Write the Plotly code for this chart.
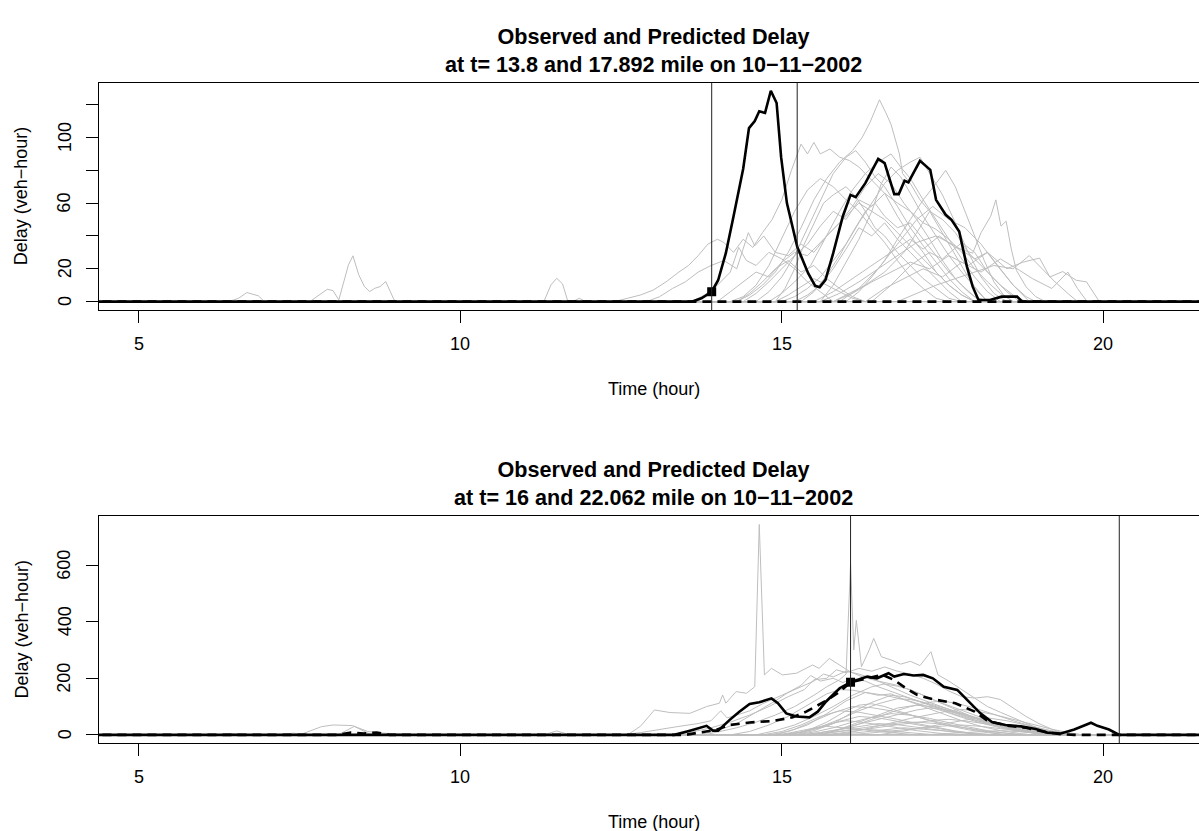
import plotly.graph_objects as go

# ---------------- data ----------------
X_TICKS = [5, 10, 15, 20]
X_TEXT = ["5", "10", "15", "20"]
TOP_Y_TICKS = [0, 20, 40, 60, 80, 100, 120]
TOP_Y_TEXT = ["0", "20", "", "60", "", "100", ""]
BOT_Y_TICKS = [0, 200, 400, 600]
BOT_Y_TEXT = ["0", "200", "400", "600"]

TITLE_TOP = "<b>Observed and Predicted Delay<br>at t= 13.8 and 17.892 mile on 10\u221211\u22122002</b>"
TITLE_BOT = "<b>Observed and Predicted Delay<br>at t= 16 and 22.062 mile on 10\u221211\u22122002</b>"
X_LABEL = "Time (hour)"
Y_LABEL = "Delay (veh\u2212hour)"

DAY_START, DAY_END = 0.0, 24.0

# ---- top panel ----
top_obs = [(13.61, 0), (13.75, 2), (13.91, 6), (14.01, 13), (14.13, 29.5), (14.25, 52), (14.40, 81),
           (14.49, 105.7), (14.58, 110), (14.65, 116), (14.74, 115), (14.83, 128.5), (14.92, 121),
           (14.99, 88), (15.08, 60), (15.24, 33.5), (15.41, 17.3), (15.52, 9.6), (15.59, 8.8),
           (15.68, 13.2), (15.80, 29.5), (15.95, 52), (16.07, 65), (16.15, 63.6), (16.30, 72.2),
           (16.50, 87), (16.60, 84.4), (16.75, 65.5), (16.82, 65.5), (16.91, 73.6), (16.97, 72.6),
           (17.15, 85.8), (17.31, 80.3), (17.40, 62), (17.55, 52.9), (17.64, 49.8), (17.76, 42.7),
           (17.88, 21.3), (17.97, 9.1), (18.06, 1), (18.24, 1), (18.42, 3), (18.66, 3), (18.74, 0)]
top_pred = [(4.0, 0), (13.91, 0), (18.8, 0), (22.0, 0)]
top_vlines = [13.91, 15.24]
top_point = (13.91, 6)

tg01 = [(12.4, 0), (12.6, 2), (12.8, 4), (13.0, 7), (13.2, 12), (13.4, 18), (13.55, 22), (13.7, 28), (13.85, 35),
        (14.0, 38), (14.1, 36), (14.25, 30), (14.4, 38), (14.55, 33), (14.7, 42), (14.85, 50), (15.0, 62),
        (15.15, 80), (15.3, 96), (15.4, 90), (15.5, 97), (15.6, 90), (15.75, 93), (15.9, 88), (16.05, 86),
        (16.2, 82), (16.4, 74), (16.6, 66), (16.8, 52), (17.0, 40), (17.2, 30), (17.4, 18), (17.6, 10),
        (17.8, 4), (18.0, 0)]
tg02 = [(12.9, 0), (13.1, 3), (13.3, 8), (13.5, 12), (13.7, 18), (13.9, 22), (14.1, 25), (14.3, 20), (14.48, 42),
        (14.58, 34), (14.72, 40), (14.9, 30), (15.1, 28), (15.3, 35), (15.5, 30), (15.7, 40), (15.9, 48),
        (16.1, 58), (16.3, 70), (16.5, 78), (16.7, 72), (16.9, 60), (17.1, 50), (17.3, 38), (17.5, 25),
        (17.7, 14), (17.9, 6), (18.1, 0)]
tg03 = [(14.3, 0), (14.5, 4), (14.7, 10), (14.9, 18), (15.1, 30), (15.3, 45), (15.5, 62), (15.7, 75), (15.9, 85),
        (16.1, 92), (16.25, 100), (16.37, 109), (16.52, 123), (16.62, 115), (16.7, 108), (16.83, 90), (16.88, 78),
        (17.0, 72), (17.15, 62), (17.3, 55), (17.45, 45), (17.6, 35), (17.75, 25), (17.9, 15), (18.05, 6), (18.2, 0)]
tg04 = [(15.5, 0), (15.8, 6), (16.1, 14), (16.4, 22), (16.7, 30), (17.0, 38), (17.2, 32), (17.45, 40), (17.7, 33),
        (17.97, 29.5), (18.1, 42), (18.25, 52), (18.33, 62), (18.41, 46), (18.49, 49), (18.57, 32), (18.65, 19),
        (18.8, 9), (18.95, 3), (19.1, 0)]
tg05 = [(15.8, 0), (16.1, 5), (16.4, 12), (16.7, 18), (17.0, 24), (17.3, 20), (17.6, 28), (17.9, 22), (18.2, 30),
        (18.5, 20), (18.75, 24), (19.01, 26.5), (19.17, 15), (19.37, 18.3), (19.58, 13), (19.74, 12), (19.94, 0)]
tg06 = [(16.3, 0), (16.6, 8), (16.9, 14), (17.2, 20), (17.5, 15), (17.8, 24), (18.1, 18), (18.4, 26), (18.7, 19),
        (18.9, 14), (19.2, 8), (19.45, 18), (19.6, 8), (19.75, 0)]
tg07 = [(14.8, 0), (15.0, 5), (15.2, 12), (15.45, 22), (15.7, 40), (15.9, 55), (16.1, 68), (16.3, 78), (16.5, 85),
        (16.7, 90), (16.85, 82), (17.0, 75), (17.2, 62), (17.4, 50), (17.6, 38), (17.8, 26), (18.0, 15),
        (18.2, 6), (18.4, 0)]
tg08 = [(14.4, 0), (14.6, 5), (14.8, 12), (15.0, 20), (15.2, 28), (15.4, 35), (15.6, 46), (15.8, 55), (16.0, 50),
        (16.2, 62), (16.4, 58), (16.6, 66), (16.8, 60), (17.0, 55), (17.2, 48), (17.4, 44), (17.6, 38),
        (17.8, 30), (18.0, 20), (18.2, 12), (18.4, 5), (18.6, 0)]
tg09 = [(14.2, 0), (14.4, 3), (14.6, 10), (14.8, 22), (15.0, 38), (15.2, 55), (15.4, 68), (15.6, 75), (15.8, 70),
        (16.0, 62), (16.2, 55), (16.4, 45), (16.6, 36), (16.8, 25), (17.0, 15), (17.2, 8), (17.4, 2), (17.6, 0)]
tg10 = [(15.0, 0), (15.2, 3), (15.4, 8), (15.6, 15), (15.8, 25), (16.0, 35), (16.2, 48), (16.4, 60), (16.6, 72),
        (16.8, 80), (17.0, 85), (17.15, 88), (17.3, 78), (17.5, 65), (17.7, 48), (17.9, 30), (18.1, 15),
        (18.3, 5), (18.5, 0)]
tg11 = [(14.3, 0), (14.5, 5), (14.7, 12), (14.9, 20), (15.1, 25), (15.3, 18), (15.5, 22), (15.7, 14), (15.9, 8),
        (16.1, 3), (16.3, 0)]
tg12 = [(15.2, 0), (15.4, 4), (15.6, 10), (15.8, 20), (16.0, 32), (16.2, 45), (16.4, 40), (16.6, 48), (16.8, 38),
        (17.0, 30), (17.2, 22), (17.4, 14), (17.6, 6), (17.8, 0)]
tg13 = [(15.8, 0), (16.0, 4), (16.3, 10), (16.6, 18), (16.9, 30), (17.1, 42), (17.3, 55), (17.5, 50), (17.7, 42),
        (17.9, 30), (18.1, 22), (18.3, 14), (18.5, 6), (18.7, 0)]
tg14 = [(14.9, 0), (15.05, 8), (15.2, 20), (15.35, 35), (15.5, 48), (15.65, 60), (15.8, 65), (16.0, 70),
        (16.15, 64), (16.3, 55), (16.45, 45), (16.6, 40), (16.8, 30), (17.0, 22), (17.2, 14), (17.4, 8),
        (17.6, 2), (17.8, 0)]
tg15 = [(13.6, 0), (13.8, 4), (14.0, 10), (14.2, 18), (14.33, 33), (14.45, 25), (14.6, 22), (14.8, 30),
        (15.0, 26), (15.2, 20), (15.4, 12), (15.6, 6), (15.8, 0)]
tg16 = [(16.0, 0), (16.2, 6), (16.4, 15), (16.6, 25), (16.8, 38), (17.0, 50), (17.2, 62), (17.4, 72), (17.55, 80),
        (17.7, 70), (17.85, 55), (18.0, 40), (18.15, 25), (18.3, 12), (18.45, 4), (18.6, 0)]
tg17 = [(15.3, 0), (15.5, 6), (15.7, 16), (15.9, 28), (16.1, 42), (16.3, 55), (16.45, 60), (16.6, 52), (16.8, 45),
        (17.0, 48), (17.2, 38), (17.4, 28), (17.6, 18), (17.8, 10), (18.0, 3), (18.2, 0)]
tg18 = [(16.8, 0), (17.1, 5), (17.4, 10), (17.7, 14), (18.0, 18), (18.3, 22), (18.6, 20), (18.85, 28),
        (19.05, 20), (19.25, 12), (19.45, 5), (19.6, 0)]
tg19 = [(14.6, 0), (14.8, 6), (15.0, 15), (15.2, 28), (15.4, 45), (15.6, 62), (15.8, 78), (16.0, 88), (16.15, 92),
        (16.3, 85), (16.45, 76), (16.6, 70), (16.8, 58), (17.0, 45), (17.2, 34), (17.4, 24), (17.6, 14),
        (17.8, 6), (18.0, 0)]
tg20 = [(15.6, 0), (15.9, 5), (16.2, 12), (16.5, 20), (16.8, 28), (17.1, 36), (17.4, 40), (17.7, 34), (18.0, 26),
        (18.2, 30), (18.4, 20), (18.6, 10), (18.8, 3), (18.95, 0)]
tg21 = [(14.9, 0), (15.1, 4), (15.3, 9), (15.5, 14), (15.7, 10), (15.9, 6), (16.1, 2), (16.3, 0)]
tg22 = [(6.4, 0), (6.55, 2), (6.68, 5.5), (6.86, 3.5), (6.95, 0), (7.66, 0), (7.78, 3.5), (7.93, 7.5), (8.02, 6.7),
        (8.11, 1), (8.26, 22.4), (8.33, 27.9), (8.42, 16.3), (8.51, 9.1), (8.59, 6.1), (8.67, 8.1), (8.75, 9.1),
        (8.84, 12.2), (8.97, 1), (9.03, 0), (11.3, 0), (11.41, 10.2), (11.5, 14.2), (11.59, 10.8), (11.67, 0.5),
        (11.75, 0), (11.85, 2), (11.95, 0)]
tg23 = [(15.9, 0), (16.2, 8), (16.5, 20), (16.8, 35), (17.1, 50), (17.35, 58), (17.6, 50), (17.85, 45),
        (18.1, 35), (18.35, 22), (18.6, 10), (18.85, 0)]
tg24 = [(16.4, 0), (16.7, 10), (17.0, 22), (17.3, 30), (17.5, 26), (17.8, 36), (18.0, 30), (18.2, 18),
        (18.4, 10), (18.6, 4), (18.8, 0)]
tg25 = [(14.0, 0), (14.2, 6), (14.4, 12), (14.6, 18), (14.8, 15), (15.0, 24), (15.2, 30), (15.4, 28), (15.6, 36),
        (15.8, 44), (16.0, 52), (16.2, 60), (16.4, 55), (16.6, 50), (16.8, 42), (17.0, 34), (17.2, 26),
        (17.4, 18), (17.6, 10), (17.8, 4), (18.0, 0)]
tg26 = [(15.6, 0), (15.8, 10), (16.0, 24), (16.2, 38), (16.4, 55), (16.55, 72), (16.7, 82), (16.85, 76),
        (17.0, 66), (17.2, 52), (17.4, 40), (17.6, 28), (17.8, 18), (18.0, 9), (18.2, 0)]

# ---- bottom panel ----
bot_obs = [(12.79, 0), (13.33, 0), (13.57, 15), (13.83, 32), (13.93, 15), (14.01, 15), (14.19, 53), (14.34, 82),
           (14.50, 109), (14.65, 115), (14.84, 129), (14.94, 112), (15.07, 76), (15.23, 65), (15.43, 62),
           (15.56, 82), (15.69, 118), (15.90, 165), (16.07, 186), (16.33, 206), (16.48, 200), (16.66, 218),
           (16.75, 206), (16.90, 215), (17.05, 210), (17.20, 212), (17.35, 200), (17.52, 170), (17.73, 159),
           (17.91, 118), (18.09, 76), (18.27, 45), (18.48, 35), (18.72, 30), (18.95, 21), (19.13, 8),
           (19.34, 5), (19.55, 19), (19.81, 43), (19.91, 32), (20.09, 19), (20.25, 0)]
bot_pred = [(8.1, 0), (8.3, 8), (8.5, 5), (8.7, 8), (8.9, 0), (13.5, 0), (13.75, 8), (13.98, 18), (14.19, 35),
            (14.5, 44), (14.86, 49), (15.17, 62), (15.38, 82), (15.67, 118), (15.9, 152), (16.07, 186),
            (16.33, 200), (16.57, 212), (16.75, 194), (16.93, 165), (17.11, 141), (17.35, 126), (17.70, 112),
            (18.0, 82), (18.18, 53), (18.27, 45), (18.5, 33), (18.8, 25), (19.1, 10), (19.35, 2), (19.55, 0)]
bot_vlines = [16.07, 20.25]
bot_point = (16.07, 186)

bg01 = [(12.6, 0), (12.8, 30), (13.02, 88), (13.26, 79), (13.57, 76), (13.83, 100), (14.03, 112), (14.08, 141),
        (14.13, 112), (14.29, 153), (14.45, 147), (14.58, 170), (14.65, 744), (14.73, 212), (14.84, 235),
        (15.01, 212), (15.23, 218), (15.48, 247), (15.58, 235), (15.74, 270), (15.9, 247), (16.05, 225),
        (16.25, 205), (16.5, 190), (16.8, 175), (17.1, 150), (17.4, 120), (17.7, 95), (18.0, 70), (18.3, 45),
        (18.6, 28), (18.9, 12), (19.2, 4), (19.4, 0)]
bg02 = [(13.8, 0), (14.0, 10), (14.3, 25), (14.6, 45), (14.9, 70), (15.2, 100), (15.5, 140), (15.7, 170),
        (15.9, 195), (16.0, 215), (16.07, 605), (16.12, 300), (16.16, 405), (16.24, 241), (16.36, 300),
        (16.43, 341), (16.55, 276), (16.7, 265), (16.85, 250), (17.0, 260), (17.15, 245), (17.32, 294),
        (17.43, 212), (17.6, 190), (17.8, 160), (18.0, 130), (18.2, 100), (18.4, 80), (18.6, 60), (18.8, 40),
        (19.0, 22), (19.2, 10), (19.4, 0)]
bg03 = [(12.5, 0), (12.8, 8), (13.1, 20), (13.4, 30), (13.7, 40), (13.9, 50), (14.05, 85), (14.15, 60),
        (14.3, 70), (14.5, 85), (14.7, 110), (14.9, 130), (15.1, 150), (15.3, 170), (15.5, 190), (15.65, 215),
        (15.8, 205), (16.0, 225), (16.2, 215), (16.4, 200), (16.6, 180), (16.8, 160), (17.0, 140), (17.3, 115),
        (17.6, 90), (17.9, 65), (18.2, 42), (18.5, 25), (18.8, 12), (19.1, 0)]
bg04 = [(13.3, 0), (13.6, 10), (13.9, 25), (14.2, 45), (14.5, 70), (14.8, 100), (15.1, 135), (15.35, 160),
        (15.5, 195), (15.7, 200), (15.85, 230), (16.0, 220), (16.2, 235), (16.4, 225), (16.6, 240), (16.8, 225),
        (17.0, 215), (17.2, 200), (17.4, 180), (17.6, 155), (17.8, 135), (18.0, 130), (18.2, 135), (18.4, 125),
        (18.6, 95), (18.8, 65), (19.0, 40), (19.2, 20), (19.4, 5), (19.6, 0)]
bg05 = [(14.6, 0), (14.9, 15), (15.2, 35), (15.5, 65), (15.8, 100), (16.1, 140), (16.4, 170), (16.6, 180),
        (16.8, 172), (17.0, 160), (17.3, 130), (17.6, 100), (17.9, 70), (18.2, 45), (18.5, 25), (18.8, 10), (19.1, 0)]
bg06 = [(14.8, 0), (15.1, 12), (15.4, 35), (15.7, 75), (16.0, 120), (16.3, 150), (16.5, 140), (16.7, 145),
        (16.9, 125), (17.2, 100), (17.5, 75), (17.8, 50), (18.1, 30), (18.4, 15), (18.7, 5), (18.9, 0)]
bg07 = [(15.0, 0), (15.3, 10), (15.6, 28), (15.9, 55), (16.2, 85), (16.5, 110), (16.8, 128), (17.0, 125),
        (17.3, 110), (17.6, 90), (17.9, 70), (18.2, 50), (18.5, 35), (18.8, 20), (19.1, 8), (19.4, 0)]
bg08 = [(15.1, 0), (15.4, 15), (15.7, 45), (16.0, 85), (16.2, 105), (16.4, 110), (16.6, 100), (16.8, 85),
        (17.0, 70), (17.3, 50), (17.6, 32), (17.9, 18), (18.2, 8), (18.5, 0)]
bg09 = [(15.3, 0), (15.6, 8), (15.9, 20), (16.2, 38), (16.5, 55), (16.8, 72), (17.1, 88), (17.3, 95), (17.5, 90),
        (17.8, 72), (18.1, 52), (18.4, 35), (18.7, 20), (19.0, 8), (19.3, 0)]
bg10 = [(14.7, 0), (15.0, 12), (15.3, 35), (15.6, 65), (15.9, 85), (16.2, 80), (16.5, 68), (16.8, 55), (17.1, 40),
        (17.4, 26), (17.7, 14), (18.0, 5), (18.3, 0)]
bg11 = [(15.2, 0), (15.5, 10), (15.8, 25), (16.1, 45), (16.4, 62), (16.7, 75), (17.0, 70), (17.3, 58), (17.6, 42),
        (17.9, 28), (18.2, 15), (18.5, 6), (18.8, 0)]
bg12 = [(15.0, 0), (15.3, 8), (15.6, 25), (15.9, 48), (16.2, 65), (16.5, 60), (16.8, 48), (17.1, 35), (17.4, 22),
        (17.7, 12), (18.0, 4), (18.2, 0)]
bg13 = [(15.6, 0), (15.9, 6), (16.2, 15), (16.5, 26), (16.8, 36), (17.1, 45), (17.4, 52), (17.6, 55), (17.9, 48),
        (18.2, 38), (18.5, 26), (18.8, 15), (19.1, 6), (19.4, 0)]
bg14 = [(15.0, 0), (15.3, 10), (15.6, 28), (15.8, 42), (16.0, 50), (16.2, 46), (16.5, 36), (16.8, 25), (17.1, 15),
        (17.4, 7), (17.7, 0)]
bg15 = [(15.4, 0), (15.7, 6), (16.0, 15), (16.3, 26), (16.6, 36), (16.9, 44), (17.1, 45), (17.4, 40), (17.7, 30),
        (18.0, 20), (18.3, 10), (18.6, 3), (18.8, 0)]
bg16 = [(15.3, 0), (15.6, 8), (15.9, 18), (16.2, 30), (16.5, 40), (16.8, 36), (17.1, 27), (17.4, 18), (17.7, 9),
        (18.0, 3), (18.2, 0)]
bg17 = [(16.0, 0), (16.3, 5), (16.6, 12), (16.9, 18), (17.2, 25), (17.5, 31), (17.8, 35), (18.1, 30), (18.4, 22),
        (18.7, 14), (19.0, 7), (19.3, 2), (19.5, 0)]
bg18 = [(14.9, 0), (15.1, 6), (15.3, 15), (15.5, 24), (15.7, 30), (15.9, 27), (16.2, 20), (16.5, 12), (16.8, 6),
        (17.1, 0)]
bg19 = [(15.8, 0), (16.1, 6), (16.4, 14), (16.7, 22), (16.9, 25), (17.2, 20), (17.5, 14), (17.8, 8), (18.1, 3),
        (18.3, 0)]
bg20 = [(15.4, 0), (15.7, 6), (16.0, 15), (16.2, 20), (16.5, 17), (16.8, 11), (17.1, 5), (17.4, 0)]
bg21 = [(16.5, 0), (16.8, 10), (17.1, 22), (17.4, 35), (17.7, 48), (18.0, 58), (18.2, 60), (18.5, 50), (18.8, 35),
        (19.1, 18), (19.4, 5), (19.6, 0)]
bg22 = [(15.8, 0), (16.1, 10), (16.4, 25), (16.7, 42), (17.0, 58), (17.3, 72), (17.6, 85), (17.8, 90), (18.0, 85),
        (18.3, 72), (18.6, 55), (18.9, 38), (19.2, 20), (19.5, 6), (19.7, 0)]
bg23 = [(15.5, 0), (15.8, 12), (16.1, 30), (16.4, 55), (16.7, 80), (17.0, 100), (17.3, 115), (17.5, 120),
        (17.7, 112), (18.0, 95), (18.3, 72), (18.6, 50), (18.9, 30), (19.2, 14), (19.5, 4), (19.7, 0)]
bg24 = [(14.2, 0), (14.5, 12), (14.8, 35), (15.1, 65), (15.4, 105), (15.7, 145), (15.9, 160), (16.1, 158),
        (16.3, 150), (16.6, 140), (16.9, 125), (17.2, 105), (17.5, 85), (17.8, 62), (18.1, 42), (18.4, 25),
        (18.7, 12), (19.0, 4), (19.2, 0)]
bg25 = [(13.7, 0), (14.0, 15), (14.3, 40), (14.6, 80), (14.9, 120), (15.1, 150), (15.3, 175), (15.45, 210),
        (15.6, 190), (15.8, 200), (15.95, 185), (16.1, 200), (16.3, 190), (16.5, 170), (16.8, 145), (17.1, 120),
        (17.4, 95), (17.7, 72), (18.0, 52), (18.3, 35), (18.6, 20), (18.9, 8), (19.2, 0)]
bg26 = [(15.2, 0), (15.5, 15), (15.8, 40), (16.1, 80), (16.4, 115), (16.7, 140), (16.9, 135), (17.2, 115),
        (17.5, 92), (17.8, 68), (18.1, 46), (18.4, 28), (18.7, 14), (19.0, 5), (19.2, 0)]
bg27 = [(17.2, 0), (17.6, 5), (18.0, 10), (18.4, 15), (18.8, 10), (19.2, 4), (19.5, 0)]
bg28 = [(7.5, 0), (7.84, 29), (8.02, 35), (8.32, 33), (8.56, 12), (8.8, 6), (9.35, 0), (11.3, 0), (11.5, 14),
        (11.7, 0)]
bg29 = [(8.1, 0), (8.35, 30), (8.6, 2), (8.8, 0)]
bg30 = [(6.2, 0), (6.45, 5), (6.7, 0), (7.2, 0), (7.4, 6), (7.6, 0)]
bg31 = [(15.6, 0), (15.9, 20), (16.2, 45), (16.5, 70), (16.8, 95), (17.1, 105), (17.4, 98), (17.7, 80),
        (18.0, 60), (18.3, 40), (18.6, 22), (18.9, 10), (19.2, 0)]
bg32 = [(14.9, 0), (15.2, 20), (15.5, 48), (15.8, 78), (16.1, 100), (16.4, 96), (16.7, 85), (17.0, 70),
        (17.3, 52), (17.6, 36), (17.9, 22), (18.2, 10), (18.5, 0)]

top_gray = [tg01, tg02, tg03, tg04, tg05, tg06, tg07, tg08, tg09, tg10, tg11, tg12, tg13,
            tg14, tg15, tg16, tg17, tg18, tg19, tg20, tg21, tg22, tg23, tg24, tg25, tg26]
bot_gray = [bg01, bg02, bg03, bg04, bg05, bg06, bg07, bg08, bg09, bg10, bg11, bg12, bg13, bg14, bg15, bg16,
            bg17, bg18, bg19, bg20, bg21, bg22, bg23, bg24, bg25, bg26, bg27, bg28, bg29, bg30, bg31, bg32]

# ---------------- layout geometry (pixels) ----------------
W, H = 1199, 831
PLOT_LEFT = 98.5
TOP_BOX = (82.7, 310.0)
BOT_BOX = (515.7, 743.3)
X_RANGE = [4.372, 21.49]
TOP_Y_RANGE = [-5.13, 133.4]
BOT_Y_RANGE = [-29.8, 774.8]
LABEL_GAP = 34  # distance of tick-label centre from axis line, px

GRAY = "#BEBEBE"
FONT = "Liberation Sans, Arial, Helvetica, sans-serif"


def pad(series):
    return [(DAY_START, 0)] + list(series) + [(DAY_END, 0)]


def xy(series):
    return [p[0] for p in series], [p[1] for p in series]


fig = go.Figure()


def add_panel(gray, obs, pred, vlines, point, xa, ya):
    for s in gray:
        x, y = xy(pad(s))
        fig.add_trace(go.Scatter(x=x, y=y, mode="lines", line=dict(color=GRAY, width=1),
                                 hoverinfo="skip", showlegend=False, xaxis=xa, yaxis=ya))
    x, y = xy(pad(obs))
    fig.add_trace(go.Scatter(x=x, y=y, mode="lines", line=dict(color="black", width=2.6),
                             hoverinfo="skip", showlegend=False, xaxis=xa, yaxis=ya))
    x, y = xy(pad(pred))
    fig.add_trace(go.Scatter(x=x, y=y, mode="lines", line=dict(color="black", width=2.6, dash="9px,6px"),
                             hoverinfo="skip", showlegend=False, xaxis=xa, yaxis=ya))
    for v in vlines:
        fig.add_shape(type="line", x0=v, x1=v, y0=0, y1=1, xref=xa, yref=ya + " domain",
                      line=dict(color="#222222", width=1))
    fig.add_trace(go.Scatter(x=[point[0]], y=[point[1]], mode="markers",
                             marker=dict(symbol="square", size=9, color="black"),
                             hoverinfo="skip", showlegend=False, xaxis=xa, yaxis=ya))


add_panel(top_gray, top_obs, top_pred, top_vlines, top_point, "x", "y")
add_panel(bot_gray, bot_obs, bot_pred, bot_vlines, bot_point, "x2", "y2")


def ydom(box):
    return [1 - box[1] / H, 1 - box[0] / H]


axis_common = dict(showgrid=False, zeroline=False, showline=True, linecolor="black", linewidth=1,
                   ticks="outside", ticklen=12, tickwidth=1, tickcolor="black",
                   showticklabels=False, automargin=False)

fig.update_layout(
    width=W, height=H, margin=dict(l=0, r=0, t=0, b=0),
    paper_bgcolor="white", plot_bgcolor="white", showlegend=False,
    xaxis=dict(domain=[PLOT_LEFT / W, 1], range=X_RANGE, tickvals=X_TICKS, mirror=True,
               anchor="y", **axis_common),
    yaxis=dict(domain=ydom(TOP_BOX), range=TOP_Y_RANGE, tickvals=TOP_Y_TICKS, anchor="x", **axis_common),
    xaxis2=dict(domain=[PLOT_LEFT / W, 1], range=X_RANGE, tickvals=X_TICKS, mirror=True,
                anchor="y2", **axis_common),
    yaxis2=dict(domain=ydom(BOT_BOX), range=BOT_Y_RANGE, tickvals=BOT_Y_TICKS, anchor="x2", **axis_common),
)

tick_font = dict(family=FONT, size=18, color="black")
cx = (PLOT_LEFT + 1208.6) / 2 / W
annots = []
panels = [(TOP_BOX, TITLE_TOP, "x", "y", TOP_Y_TICKS, TOP_Y_TEXT),
          (BOT_BOX, TITLE_BOT, "x2", "y2", BOT_Y_TICKS, BOT_Y_TEXT)]
for box, title, xa, ya, yt, ytxt in panels:
    annots.append(dict(text=title, x=cx, y=1 - (box[0] - 32.5) / H, xref="paper", yref="paper",
                       xanchor="center", yanchor="middle", showarrow=False,
                       font=dict(family=FONT, size=21.6, color="black")))
    annots.append(dict(text=X_LABEL, x=cx, y=1 - (box[1] + 79) / H, xref="paper", yref="paper",
                       xanchor="center", yanchor="middle", showarrow=False,
                       font=dict(family=FONT, size=18, color="black")))
    annots.append(dict(text=Y_LABEL, x=21 / W, y=1 - (box[0] + box[1]) / 2 / H, xref="paper", yref="paper",
                       xanchor="center", yanchor="middle", showarrow=False, textangle=-90,
                       font=dict(family=FONT, size=18, color="black")))
    for v, t in zip(X_TICKS, X_TEXT):
        annots.append(dict(text=t, x=v, xref=xa, y=1 - (box[1] + LABEL_GAP) / H, yref="paper",
                           xanchor="center", yanchor="middle", showarrow=False, font=tick_font))
    for v, t in zip(yt, ytxt):
        if t:
            annots.append(dict(text=t, y=v, yref=ya, x=(PLOT_LEFT - LABEL_GAP) / W, xref="paper",
                               xanchor="center", yanchor="middle", showarrow=False, textangle=-90,
                               font=tick_font))
fig.update_layout(annotations=annots)

fig.write_html("out.html")
